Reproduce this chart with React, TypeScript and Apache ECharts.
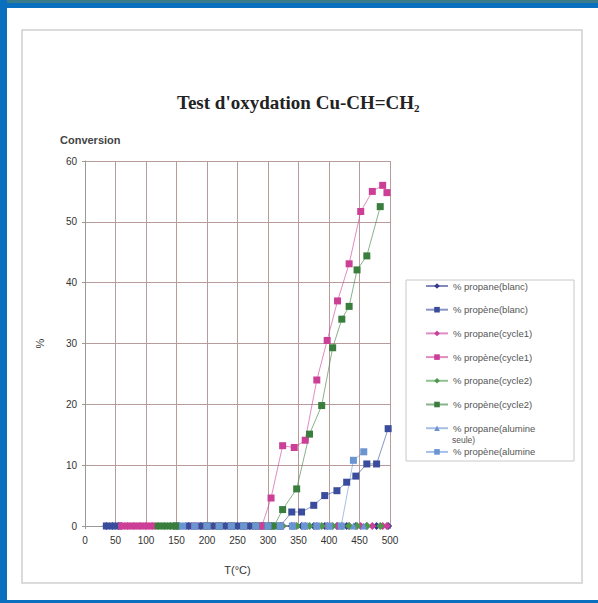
import React, { useEffect, useRef } from "react";
import * as echarts from "echarts";

// Temperatures (°C) per experiment
const tBlanc = [35, 45, 55, 150, 170, 190, 210, 230, 250, 270, 290, 305, 320, 339, 355, 375, 393, 413, 429, 444, 462, 478, 497];
const propaneBlanc = [0, 0, 0, 0, 0, 0, 0, 0, 0, 0, 0, 0, 0, 0, 0, 0, 0, 0, 0, 0, 0, 0, 0];
const propeneBlanc = [0, 0, 0, 0, 0, 0, 0, 0, 0, 0, 0, 0, 0, 2.3, 2.3, 3.4, 5.0, 5.8, 7.2, 8.2, 10.2, 10.2, 16.0];

const tCycle1 = [60, 70, 80, 90, 100, 110, 180, 200, 220, 240, 260, 280, 290, 305, 324, 343, 361, 380, 397, 414, 433, 452, 471, 488, 495];
const propaneCycle1 = [0, 0, 0, 0, 0, 0, 0, 0, 0, 0, 0, 0, 0, 0, 0, 0, 0, 0, 0, 0, 0, 0, 0, 0, 0];
const propeneCycle1 = [0, 0, 0, 0, 0, 0, 0, 0, 0, 0, 0, 0, 0, 4.6, 13.2, 12.9, 14.1, 24.0, 30.5, 37.0, 43.1, 51.7, 55.0, 56.0, 54.8];

const tCycle2 = [120, 130, 140, 150, 200, 220, 240, 260, 280, 300, 310, 324, 347, 368, 388, 406, 421, 433, 446, 462, 484];
const propaneCycle2 = [0, 0, 0, 0, 0, 0, 0, 0, 0, 0, 0, 0, 0, 0, 0, 0, 0, 0, 0, 0, 0];
const propeneCycle2 = [0, 0, 0, 0, 0, 0, 0, 0, 0, 0, 0, 2.7, 6.1, 15.1, 19.8, 29.3, 34.0, 36.1, 42.1, 44.4, 52.5];

const tAlumine = [160, 180, 200, 220, 240, 260, 280, 300, 320, 340, 360, 380, 400, 420, 440, 457];
const propaneAlumine = [0, 0, 0, 0, 0, 0, 0, 0, 0, 0, 0, 0, 0, 0, 0, 0];
const propeneAlumine = [0, 0, 0, 0, 0, 0, 0, 0, 0, 0, 0, 0, 0, 0, 10.8, 12.2];

const seriesNames = [
  "% propane(blanc)",
  "% propène(blanc)",
  "% propane(cycle1)",
  "% propène(cycle1)",
  "% propane(cycle2)",
  "% propène(cycle2)",
  "% propane(alumine seule)",
  "% propène(alumine seule)",
];

const xTickLabels = ["0", "50", "100", "150", "200", "250", "300", "350", "400", "450", "500"];
const yTickLabels = ["0", "10", "20", "30", "40", "50", "60"];

const pairs = (t: number[], v: number[]) => t.map((x, i) => [x, v[i]]);

export default function App() {
  const ref = useRef<HTMLDivElement>(null);
  useEffect(() => {
    if (!ref.current) return;
    const chart = echarts.init(ref.current, null, { renderer: "svg" });

    const defs = [
      { t: tBlanc, v: propaneBlanc, color: "#34398f", symbol: "diamond", size: 8 },
      { t: tBlanc, v: propeneBlanc, color: "#3a4c9c", symbol: "rect", size: 7 },
      { t: tCycle1, v: propaneCycle1, color: "#c8409a", symbol: "diamond", size: 8 },
      { t: tCycle1, v: propeneCycle1, color: "#cc3f96", symbol: "rect", size: 7 },
      { t: tCycle2, v: propaneCycle2, color: "#4a9a4a", symbol: "diamond", size: 8 },
      { t: tCycle2, v: propeneCycle2, color: "#3a7e3e", symbol: "rect", size: 7 },
      { t: tAlumine, v: propaneAlumine, color: "#6a94d2", symbol: "triangle", size: 7 },
      { t: tAlumine, v: propeneAlumine, color: "#6a94d2", symbol: "rect", size: 7 },
    ];

    const series = defs.map((d, i) => ({
      name: seriesNames[i],
      type: "line",
      data: pairs(d.t, d.v),
      symbol: d.symbol,
      symbolSize: d.size,
      showAllSymbol: true,
      lineStyle: { color: d.color, width: 1, opacity: 0.6 },
      itemStyle: { color: d.color },
    }));

    const font = "Liberation Sans";

    const option = {
      animation: false,
      backgroundColor: "#ffffff",
      title: {
        text: "Test d'oxydation Cu-CH=CH{sub|2}",
        left: 172,
        top: 86,
        textStyle: {
          fontFamily: "Liberation Serif",
          fontSize: 19,
          fontWeight: "bold",
          color: "#222",
          rich: {
            sub: {
              fontFamily: "Liberation Serif",
              fontSize: 11,
              fontWeight: "bold",
              color: "#222",
              verticalAlign: "bottom",
              padding: [11, 0, 0, 0],
            },
          },
        },
      },
      grid: { left: 85, right: 208, top: 161, bottom: 77, containLabel: false },
      xAxis: {
        type: "value",
        min: 0,
        max: 500,
        interval: 50,
        name: "T(°C)",
        nameLocation: "middle",
        nameGap: 38,
        nameTextStyle: { fontFamily: font, fontSize: 11, color: "#333" },
        axisLine: { lineStyle: { color: "#999", width: 1 } },
        axisTick: { show: true, length: 3, lineStyle: { color: "#999" } },
        axisLabel: {
          fontFamily: font,
          fontSize: 10,
          color: "#333",
          margin: 9,
          formatter: (v: number) => xTickLabels[Math.round(v / 50)] ?? "",
        },
        splitLine: { show: true, lineStyle: { color: "#b89c9c", width: 1 } },
      },
      yAxis: {
        type: "value",
        min: 0,
        max: 60,
        interval: 10,
        name: "%",
        nameLocation: "middle",
        nameGap: 40,
        nameRotate: 90,
        nameTextStyle: { fontFamily: font, fontSize: 11, color: "#333" },
        axisLine: { show: true, lineStyle: { color: "#999", width: 1 } },
        axisTick: { show: true, length: 3, lineStyle: { color: "#999" } },
        axisLabel: {
          fontFamily: font,
          fontSize: 10,
          color: "#333",
          margin: 8,
          formatter: (v: number) => yTickLabels[Math.round(v / 10)] ?? "",
        },
        splitLine: { show: true, lineStyle: { color: "#b89c9c", width: 1 } },
      },
      legend: {
        orient: "vertical",
        left: 420,
        top: 276,
        padding: 5,
        itemWidth: 22,
        itemHeight: 7,
        itemGap: 13.7,
        data: seriesNames,
        textStyle: { fontFamily: font, fontSize: 9.5, color: "#555", lineHeight: 10 },
        formatter: (name: string) =>
          name === "% propane(alumine seule)"
            ? "% propane(alumine"
            : name === "% propène(alumine seule)"
            ? "% propène(alumine"
            : name,
      },
      graphic: [
        { type: "rect", shape: { x: 0, y: 0, width: 598, height: 3 }, style: { fill: "#3b7c8c" }, silent: true },
        { type: "rect", shape: { x: 0, y: 3, width: 598, height: 5 }, style: { fill: "#0b6fc0" }, silent: true },
        { type: "rect", shape: { x: 0, y: 0, width: 7, height: 603 }, style: { fill: "#0b6fc0" }, silent: true },
        { type: "rect", shape: { x: 0, y: 600, width: 598, height: 3 }, style: { fill: "#0b6fc0" }, silent: true },
        {
          type: "rect",
          shape: { x: 22, y: 30, width: 560, height: 553 },
          style: { fill: "none", stroke: "#cfcfcf", lineWidth: 1.5 },
          silent: true,
          z: -1,
        },
        {
          type: "rect",
          shape: { x: 406, y: 280, width: 168, height: 181 },
          style: { fill: "none", stroke: "#c8c8c8", lineWidth: 1 },
          silent: true,
        },
        {
          type: "text",
          x: 452,
          y: 440,
          style: { text: "seule)", fontFamily: font, fontSize: 8.5, fill: "#555", textVerticalAlign: "middle" },
          silent: true,
        },
        {
          type: "text",
          x: 60,
          y: 140,
          style: { text: "Conversion", fontFamily: font, fontSize: 11, fontWeight: "bold", fill: "#444", textVerticalAlign: "middle" },
          silent: true,
        },
      ],
      series,
    };

    chart.setOption(option as any);
    return () => chart.dispose();
  }, []);

  return (
    <div
      ref={ref}
      style={{ position: "absolute", left: 0, top: 0, width: 598, height: 603, background: "#fff" }}
    />
  );
}
